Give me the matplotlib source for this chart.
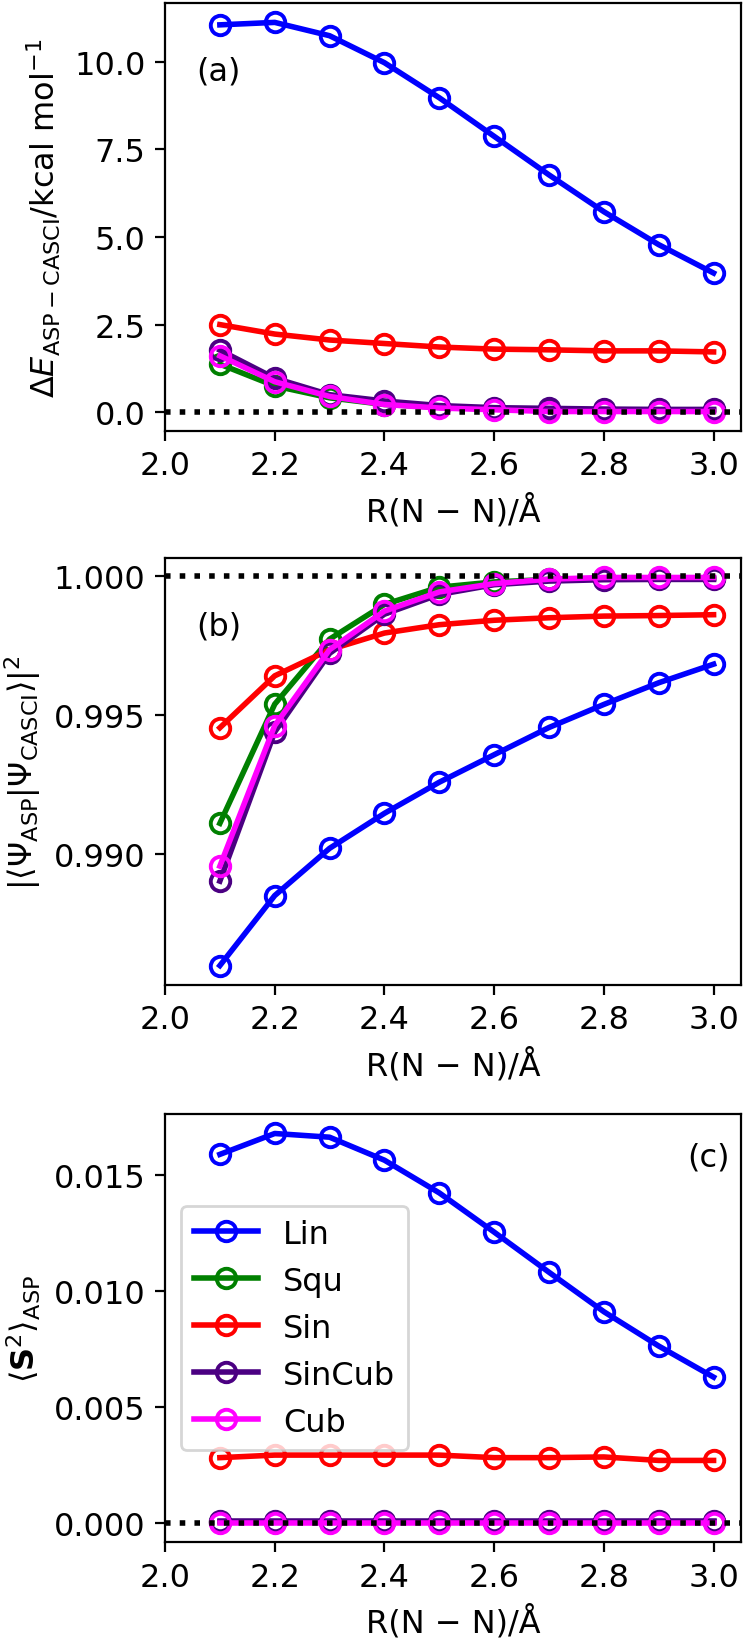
import matplotlib
matplotlib.use("Agg")
import matplotlib.pyplot as plt

R = [2.1, 2.2, 2.3, 2.4, 2.5, 2.6, 2.7, 2.8, 2.9, 3.0]
labels = ["Lin", "Squ", "Sin", "SinCub", "Cub"]
colors = ["blue", "green", "red", "indigo", "magenta"]

# Panel (a): Delta E (kcal/mol)
dE_Lin = [11.05, 11.12, 10.74, 9.97, 8.97, 7.87, 6.77, 5.72, 4.78, 3.97]
dE_Squ = [1.37, 0.75, 0.41, 0.22, 0.14, 0.09, 0.07, 0.06, 0.06, 0.06]
dE_Sin = [2.50, 2.23, 2.06, 1.96, 1.86, 1.80, 1.78, 1.75, 1.75, 1.72]
dE_SinCub = [1.77, 0.97, 0.50, 0.32, 0.19, 0.13, 0.11, 0.09, 0.08, 0.08]
dE_Cub = [1.61, 0.87, 0.45, 0.22, 0.12, 0.07, 0.02, 0.02, 0.02, 0.02]

# Panel (b): overlap
ov_Lin = [0.98597, 0.98849, 0.99019, 0.99145, 0.99257, 0.99356, 0.99454, 0.99537, 0.99615, 0.99682]
ov_Squ = [0.99109, 0.99538, 0.99772, 0.99897, 0.99959, 0.99978, 0.99987, 0.99991, 0.99991, 0.99991]
ov_Sin = [0.99453, 0.99640, 0.99734, 0.99794, 0.99824, 0.99840, 0.99849, 0.99855, 0.99857, 0.99860]
ov_SinCub = [0.98901, 0.99438, 0.99721, 0.99862, 0.99933, 0.99968, 0.99981, 0.99986, 0.99987, 0.99987]
ov_Cub = [0.98955, 0.99461, 0.99734, 0.99873, 0.99942, 0.99972, 0.99988, 0.99994, 0.99994, 0.99994]

# Panel (c): <S^2>
s2_Lin = [0.01587, 0.01677, 0.01661, 0.01562, 0.01421, 0.01252, 0.01079, 0.00909, 0.00761, 0.00627]
s2_Squ = [0.00003, 0.00003, 0.00003, 0.00003, 0.00003, 0.00003, 0.00003, 0.00003, 0.00003, 0.00003]
s2_Sin = [0.00280, 0.00291, 0.00291, 0.00291, 0.00291, 0.00280, 0.00280, 0.00283, 0.00268, 0.00268]
s2_SinCub = [0.00008, 0.00008, 0.00008, 0.00008, 0.00008, 0.00008, 0.00008, 0.00008, 0.00008, 0.00008]
s2_Cub = [0.0, 0.0, 0.0, 0.0, 0.0, 0.0, 0.0, 0.0, 0.0, 0.0]

xticks = [2.0, 2.2, 2.4, 2.6, 2.8, 3.0]
xlabel = "R(N \u2212 N)/\u00c5"

plt.rcParams["font.family"] = ["DejaVu Sans"]
plt.rcParams["font.size"] = 11.5

fig = plt.figure(figsize=(3.73, 8.2), dpi=200)
L, W = 0.2212, 0.7721
ax_a = fig.add_axes([L, 0.7366, W, 0.2610])
ax_b = fig.add_axes([L, 0.3988, W, 0.2603])
ax_c = fig.add_axes([L, 0.0591, W, 0.2610])

panels = [
    (ax_a, [dE_Lin, dE_Squ, dE_Sin, dE_SinCub, dE_Cub], 0.0,
     r"$\Delta E_{\mathrm{ASP-CASCI}}$/kcal mol$^{-1}$", "(a)", (0.055, 0.84), "left"),
    (ax_b, [ov_Lin, ov_Squ, ov_Sin, ov_SinCub, ov_Cub], 1.0,
     r"$|\langle\Psi_{\mathrm{ASP}}|\Psi_{\mathrm{CASCI}}\rangle|^2$", "(b)", (0.055, 0.84), "left"),
    (ax_c, [s2_Lin, s2_Squ, s2_Sin, s2_SinCub, s2_Cub], 0.0,
     r"$\langle\mathbf{S}^2\rangle_{\mathrm{ASP}}$", "(c)", (0.98, 0.90), "right"),
]

for ax, series, ref, ylab, tag, tpos, ha in panels:
    for ys, lab, col in zip(series, labels, colors):
        ax.plot(R, ys, "-o", color=col, label=lab, lw=2.0, ms=7,
                mfc="none", mec=col, mew=1.4)
    ax.axhline(ref, color="black", ls=":", lw=2)
    ax.set_xlim(2.0, 3.05)
    ax.set_xticks(xticks)
    ax.set_xlabel(xlabel)
    ax.set_ylabel(ylab)
    ax.text(tpos[0], tpos[1], tag, transform=ax.transAxes, ha=ha, va="center")

ax_a.set_yticks([0.0, 2.5, 5.0, 7.5, 10.0])
ax_b.set_yticks([0.990, 0.995, 1.000])
ax_c.set_yticks([0.000, 0.005, 0.010, 0.015])
ax_c.legend(loc="center left", labelspacing=0.5, borderaxespad=0.5)

fig.savefig("out.png", dpi=200)
